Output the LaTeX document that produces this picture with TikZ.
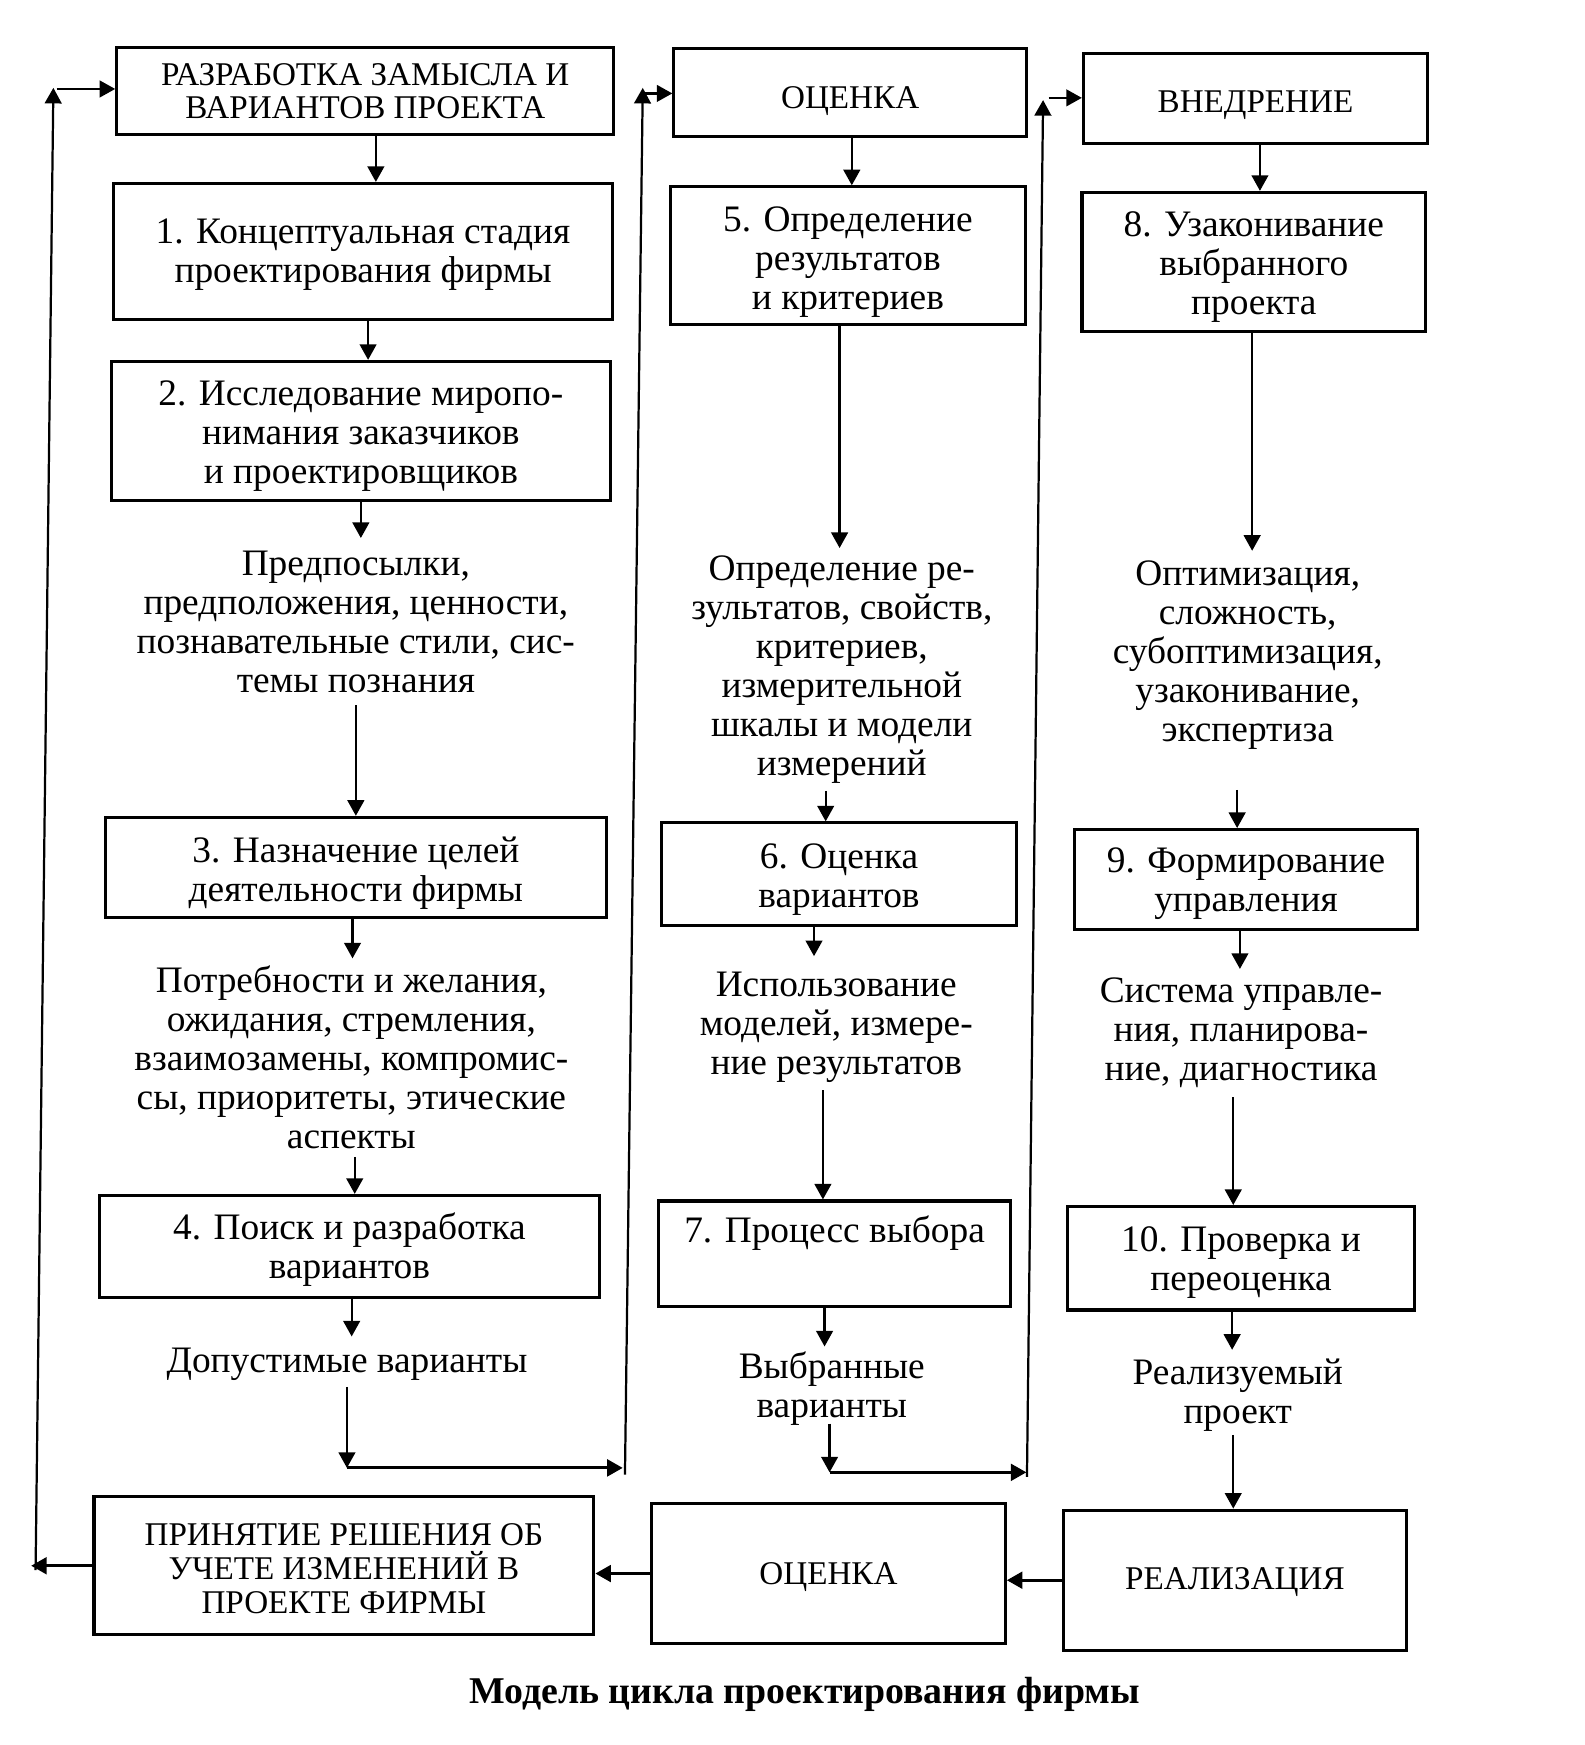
\documentclass[tikz,border=0pt]{standalone}
\usepackage{fontspec}
\setmainfont{Liberation Serif}
\usetikzlibrary{arrows.meta,calc}
\newcommand{\mybody}{\fontsize{33.6}{35}\selectfont}
\newcommand{\mycaps}{\fontsize{29.8}{30.5}\selectfont}
\newcommand{\mycapt}{\fontsize{34}{38}\selectfont\bfseries}
\begin{document}
\begin{tikzpicture}[x=1pt,y=-1pt,
  box/.style={draw, line width=2.8pt, inner sep=0pt},
  txt/.style={align=center, inner sep=0pt, font=\mybody},
  ctxt/.style={align=center, inner sep=0pt, font=\mycaps},
  arr/.style={line width=2pt, -{Triangle[width=15pt,length=14pt]}},
  thk/.style={line width=2.8pt, -{Triangle[width=15pt,length=14pt]}}
]
\useasboundingbox (0,0) rectangle (1424.5,1569.2);

% ---------- column 1 ----------
\node[box, minimum width=447pt, minimum height=78pt] (A) at (328.5,82) {};
\node[ctxt] (At) at ($(A.center)+(0,0)$) {РАЗРАБОТКА ЗАМЫСЛА И\\ВАРИАНТОВ ПРОЕКТА};
\node[box, minimum width=449pt, minimum height=122pt] (n1) at (326.5,226) {};
\node[txt] (n1t) at ($(n1.center)+(0,3)$) {1. Концептуальная стадия\\проектирования фирмы};
\node[box, minimum width=449pt, minimum height=125pt] (n2) at (324.5,387.5) {};
\node[txt] (n2t) at ($(n2.center)+(0,5)$) {2. Исследование миропо-\\нимания заказчиков\\и проектировщиков};
\node[txt, minimum height=150pt] (T2) at (320,559) {Предпосылки,\\предположения, ценности,\\познавательные стили, сис-\\темы познания};
\node[box, minimum width=450pt, minimum height=90pt] (n3) at (320,780) {};
\node[txt] (n3t) at ($(n3.center)+(0,5)$) {3. Назначение целей\\деятельности фирмы};
\node[txt, minimum height=178pt] (T3) at (316,951) {Потребности и желания,\\ожидания, стремления,\\взаимозамены, компромис-\\сы, приоритеты, этические\\аспекты};
\node[box, minimum width=449.5pt, minimum height=92pt] (n4) at (314.25,1121) {};
\node[txt] (n4t) at ($(n4.center)+(0,3)$) {4. Поиск и разработка\\вариантов};
\node[txt, minimum height=45pt] (T4) at (312,1227) {Допустимые варианты};

% ---------- column 2 ----------
\node[box, minimum width=317pt, minimum height=79pt] (B) at (764.5,83.5) {};
\node[ctxt] (Bt) at ($(B.center)+(0,7.5)$) {ОЦЕНКА};
\node[box, minimum width=319pt, minimum height=124pt] (n5) at (762.5,230) {};
\node[txt] (n5t) at ($(n5.center)+(0,6)$) {5. Определение\\результатов\\и критериев};
\node[txt, minimum height=218pt] (T5) at (757,602) {Определение ре-\\зультатов, свойств,\\критериев,\\измерительной\\шкалы и модели\\измерений};
\node[box, minimum width=319pt, minimum height=92pt] (n6) at (754.5,786) {};
\node[txt] (n6t) at ($(n6.center)+(0,5)$) {6. Оценка\\вариантов};
\node[txt, minimum height=120pt] (T6) at (752,924) {Использование\\моделей, измере-\\ние результатов};
\node[box, minimum width=317pt, minimum height=95pt] (n7) at (750.5,1127.5) {};
\node[txt] (n7t) at ($(n7.center)+(0,-19)$) {7. Процесс выбора};
\node[txt, minimum height=69pt] (T7) at (748,1248.5) {Выбранные\\варианты};

% ---------- column 3 ----------
\node[box, minimum width=309.5pt, minimum height=81pt] (C) at (1129,88.5) {};
\node[ctxt] (Ct) at ($(C.center)+(0,6)$) {ВНЕДРЕНИЕ};
\node[box, minimum width=309pt, minimum height=125pt] (n8) at (1127.5,235.5) {};
\node[txt] (n8t) at ($(n8.center)+(0,5)$) {8. Узаконивание\\выбранного\\проекта};
\node[txt, minimum height=187pt] (T8) at (1122,589) {Оптимизация,\\сложность,\\субоптимизация,\\узаконивание,\\экспертиза};
\node[box, minimum width=309pt, minimum height=90pt] (n9) at (1120.5,791) {};
\node[txt] (n9t) at ($(n9.center)+(0,4)$) {9. Формирование\\управления};
\node[txt, minimum height=115pt] (T9) at (1116,929) {Система управле-\\ния, планирова-\\ние, диагностика};
\node[box, minimum width=312pt, minimum height=93pt] (n10) at (1116,1131.5) {};
\node[txt] (n10t) at ($(n10.center)+(0,4)$) {10. Проверка и\\переоценка};
\node[txt, minimum height=76pt] (T10) at (1113,1255) {Реализуемый\\проект};

% ---------- bottom row ----------
\node[box, minimum width=449.5pt, minimum height=124pt] (D) at (309.25,1408) {};
\node[ctxt] (Dt) at ($(D.center)+(0,3)$) {ПРИНЯТИЕ РЕШЕНИЯ ОБ\\УЧЕТЕ ИЗМЕНЕНИЙ В\\ПРОЕКТЕ ФИРМЫ};
\node[box, minimum width=318pt, minimum height=126pt] (E) at (745,1415) {};
\node[ctxt] (Et) at ($(E.center)+(0,3)$) {ОЦЕНКА};
\node[box, minimum width=309pt, minimum height=126pt] (F) at (1110.5,1421) {};
\node[ctxt] (Ft) at ($(F.center)+(0,2)$) {РЕАЛИЗАЦИЯ};

\node[font=\mycapt, inner sep=0pt] (cap) at (723.5,1524) {Модель цикла проектирования фирмы};

% ---------- free ends ----------
\coordinate (c1) at (312,1320);
\coordinate (c2) at (560,1320);
\coordinate (c3) at (562,1326);
\coordinate (c4) at (578,79);
\coordinate (c5) at (580,84);
\coordinate (c6) at (746,1324);
\coordinate (c7) at (923,1324);
\coordinate (c8) at (923.5,1328);
\coordinate (c9) at (938,90);
\coordinate (c10) at (943,88);
\coordinate (c11) at (28,1408);
\coordinate (c12) at (32,1412);
\coordinate (c13) at (48,79);
\coordinate (c14) at (51,80);

% ---------- column 1 connectors ----------
\draw[arr] ([xshift=9.5pt]A.south) -- ([xshift=9.5pt]A.south |- n1.north);
\draw[arr] ([xshift=4.5pt]n1.south) -- ([xshift=4.5pt]n1.south |- n2.north);
\draw[arr] (n2.south) -- (n2.south |- T2.north);
\draw[arr] (T2.south) -- (T2.south |- n3.north);
\draw[arr] ([xshift=-3pt]n3.south) -- ([xshift=-3pt]n3.south |- T3.north);
\draw[arr] ([xshift=3pt]T3.south) -- ([xshift=3pt]T3.south |- n4.north);
\draw[arr] ([xshift=2pt]n4.south) -- ([xshift=2pt,yshift=2.5pt]n4.south |- T4.north);
\draw[arr] ([yshift=2.5pt]T4.south) -- (c1);
\draw[thk] (c1) -- (c2);
\draw[arr] (c3) -- (c4);
\draw[arr] (c5) -- (c5 -| B.west);

% ---------- column 2 connectors ----------
\draw[arr] ([xshift=1.5pt]B.south) -- ([xshift=1.5pt]B.south |- n5.north);
\draw[arr] ([xshift=-7.5pt]n5.south) -- ([xshift=-7.5pt]n5.south |- T5.north);
\draw[arr] ([xshift=-14.5pt]T5.south) -- ([xshift=-14.5pt]T5.south |- n6.north);
\draw[arr] ([xshift=-22.5pt]n6.south) -- ([xshift=-22.5pt,yshift=4pt]n6.south |- T6.north);
\draw[arr] ([xshift=-12pt,yshift=4pt]T6.south) -- ([xshift=-12pt]T6.south |- n7.north);
\draw[arr] ([xshift=-9pt]n7.south) -- ([xshift=-9pt,yshift=3pt]n7.south |- T7.north);
\draw[arr] ([xshift=-2pt,yshift=3pt]T7.south) -- (c6);
\draw[thk] (c6) -- (c7);
\draw[arr] (c8) -- (c9);
\draw[arr] (c10) -- (c10 -| C.west);

% ---------- column 3 connectors ----------
\draw[arr] ([xshift=4pt]C.south) -- ([xshift=4pt]C.south |- n8.north);
\draw[arr] ([xshift=-1.5pt]n8.south) -- ([xshift=-1.5pt]n8.south |- T8.north);
\draw[arr] ([xshift=-9.5pt,yshift=-27.5pt]T8.south) -- ([xshift=-9.5pt]T8.south |- n9.north);
\draw[arr] ([xshift=-5.5pt]n9.south) -- ([xshift=-5.5pt]n9.south |- T9.north);
\draw[arr] ([xshift=-7pt]T9.south) -- ([xshift=-7pt]T9.south |- n10.north);
\draw[arr] ([xshift=-8pt]n10.south) -- ([xshift=-8pt,yshift=3pt]n10.south |- T10.north);
\draw[arr] ([xshift=-4pt,yshift=3pt]T10.south) -- ([xshift=-4pt]T10.south |- F.north);

% ---------- bottom row connectors ----------
\draw[thk] (F.west) -- (F.west -| E.east);
\draw[thk] (E.west) -- (E.west -| D.east);
\draw[thk] (D.west) -- (c11);
\draw[arr] (c12) -- (c13);
\draw[arr] (c14) -- (c14 -| A.west);
\end{tikzpicture}
\end{document}
